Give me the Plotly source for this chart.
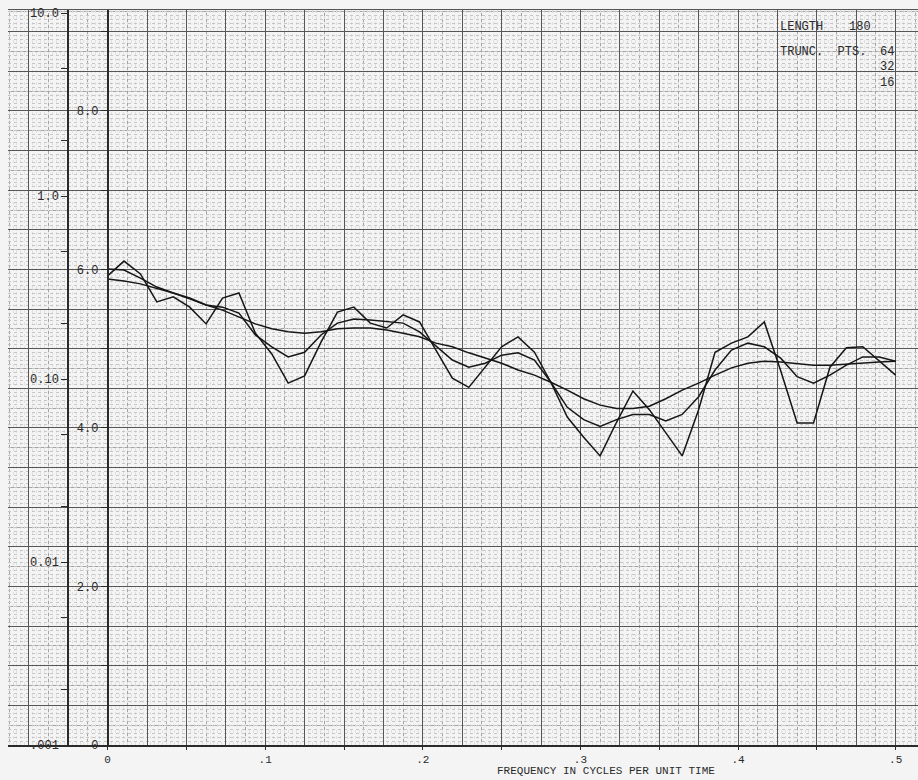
import numpy as np
import plotly.graph_objects as go

# ---- data ----
FREQ = list(np.round(np.linspace(0.0, 0.5, 49), 5))   # frequency grid, cycles per unit time

SPEC_64 = [0.366, 0.441, 0.375, 0.264, 0.281, 0.247, 0.200, 0.277, 0.295, 0.178,
           0.137, 0.095, 0.104, 0.159, 0.232, 0.247, 0.202, 0.190, 0.224, 0.205,
           0.144, 0.101, 0.090, 0.116, 0.150, 0.170, 0.140, 0.096, 0.062, 0.048,
           0.038, 0.058, 0.086, 0.068, 0.051, 0.038, 0.068, 0.140, 0.157, 0.170,
           0.205, 0.111, 0.0575, 0.0575, 0.116, 0.148, 0.150, 0.125, 0.105]

SPEC_32 = [0.399, 0.394, 0.356, 0.318, 0.295, 0.277, 0.254, 0.247, 0.229, 0.174,
           0.150, 0.132, 0.140, 0.174, 0.202, 0.213, 0.210, 0.205, 0.202, 0.181,
           0.152, 0.127, 0.116, 0.122, 0.135, 0.139, 0.127, 0.096, 0.070, 0.060,
           0.055, 0.060, 0.064, 0.064, 0.059, 0.064, 0.080, 0.112, 0.144, 0.157,
           0.150, 0.130, 0.103, 0.095, 0.105, 0.119, 0.132, 0.132, 0.125]

SPEC_16 = [0.352, 0.343, 0.331, 0.314, 0.295, 0.274, 0.254, 0.238, 0.218, 0.200,
           0.188, 0.181, 0.178, 0.181, 0.188, 0.190, 0.190, 0.185, 0.178, 0.170,
           0.157, 0.150, 0.139, 0.130, 0.122, 0.112, 0.105, 0.096, 0.087, 0.078,
           0.072, 0.069, 0.069, 0.071, 0.078, 0.087, 0.095, 0.105, 0.115, 0.122,
           0.125, 0.124, 0.122, 0.119, 0.119, 0.121, 0.122, 0.124, 0.125]

X_TICKS = [0.0, 0.05, 0.1, 0.15, 0.2, 0.25, 0.3, 0.35, 0.4, 0.45, 0.5]
X_TICKTEXT = ["0", "", ".1", "", ".2", "", ".3", "", ".4", "", ".5"]

LOG_TICKS = [0.001, 0.002, 0.005, 0.01, 0.02, 0.05, 0.1, 0.2, 0.5, 1, 2, 5, 10]
LOG_TICKTEXT = [".001", "", "", "0.01", "", "", "0.10", "", "", "1.0", "", "", "10.0"]

LIN_TICKS = [0, 1, 2, 3, 4, 5, 6, 7, 8, 9]
LIN_TICKTEXT = ["0", "", "2.0", "", "4.0", "", "6.0", "", "8.0", ""]

SERIES = [("64", SPEC_64), ("32", SPEC_32), ("16", SPEC_16)]

# ---- layout geometry ----
W, H = 918, 780
ML, MR, MT, MB = 8, 0, 10, 35
PW, PH = W - ML - MR, H - MT - MB
X_RANGE = [-0.0632, 0.5142]
LOG_RANGE = [-3.0, 1.0164]
LIN_RANGE = [0.0, 9.274]

def px_x(px):
    return (px - ML) / PW

def px_y(py):
    return (H - MB - py) / PH

MONO = "Liberation Mono, DejaVu Sans Mono, monospace"
INK = "#2a2a2a"
PAPER = "#f4f4f4"

fig = go.Figure()
# empty traces so that the graph-paper and inner axes are instantiated
for xa, ya in [("x2", "y3"), ("x3", "y4"), ("x", "y2")]:
    fig.add_trace(go.Scatter(x=[], y=[], xaxis=xa, yaxis=ya, mode="lines",
                             showlegend=False, hoverinfo="skip"))
for name, vals in SERIES:
    fig.add_trace(go.Scatter(x=FREQ, y=vals, name=name, mode="lines",
                             line=dict(color="#161616", width=1.5),
                             xaxis="x", yaxis="y", showlegend=False))

grid_axis_common = dict(showticklabels=False, ticks="", zeroline=False, showline=False,
                        fixedrange=True)

fig.update_layout(
    width=W, height=H,
    margin=dict(l=ML, r=MR, t=MT, b=MB, pad=0),
    paper_bgcolor=PAPER, plot_bgcolor=PAPER,
    font=dict(family=MONO, size=11, color=INK),
    xaxis=dict(range=X_RANGE, tickvals=X_TICKS, ticktext=X_TICKTEXT,
               ticks="outside", ticklen=3, tickcolor=INK, tickwidth=1,
               showgrid=False, zeroline=False, showline=True, linecolor=INK,
               linewidth=1.5, tickfont=dict(family=MONO, size=11, color=INK),
               anchor="y", domain=[0, 1]),
    # fine dotted graph-paper texture (drawn first)
    xaxis2=dict(range=X_RANGE, overlaying="x", anchor="y3",
                showgrid=True, dtick=0.0025, tick0=0, gridcolor="#e0e0e0", gridwidth=1,
                griddash="dot", **grid_axis_common),
    # main graph-paper rulings (drawn on top of the texture)
    xaxis3=dict(range=X_RANGE, overlaying="x", anchor="y4", side="top",
                showgrid=True, dtick=0.025, tick0=0, gridcolor="#565656", gridwidth=1,
                minor=dict(dtick=0.0125, tick0=0, showgrid=True, gridcolor="#a4a4a4",
                           gridwidth=1),
                showline=True, linecolor="#555555", linewidth=1,
                showticklabels=False, ticks="", zeroline=False),
    yaxis=dict(type="log", range=LOG_RANGE, anchor="free", position=px_x(68),
               tickvals=LOG_TICKS, ticktext=LOG_TICKTEXT, ticks="outside",
               ticklen=6, tickcolor=INK, tickwidth=1.2, showgrid=False,
               zeroline=False, showline=True, linecolor=INK, linewidth=1.5,
               tickfont=dict(family=MONO, size=12, color=INK), domain=[0, 1]),
    yaxis2=dict(range=LIN_RANGE, overlaying="y", anchor="free", position=px_x(107.6),
                tickvals=LIN_TICKS, ticktext=LIN_TICKTEXT, ticks="outside",
                ticklen=6, tickcolor=INK, tickwidth=1.2, showgrid=False,
                zeroline=False, showline=True, linecolor=INK, linewidth=1.5,
                tickfont=dict(family=MONO, size=12, color=INK), side="left"),
    yaxis3=dict(range=LIN_RANGE, overlaying="y", anchor="x2", side="right",
                showgrid=True, dtick=0.05, tick0=0, gridcolor="#c6c6c6", gridwidth=1,
                griddash="dot", **grid_axis_common),
    yaxis4=dict(range=LIN_RANGE, overlaying="y", anchor="x3", side="right",
                showgrid=True, dtick=0.5, tick0=0, gridcolor="#565656", gridwidth=1,
                minor=dict(dtick=0.25, tick0=0, showgrid=True, gridcolor="#a4a4a4",
                           gridwidth=1),
                **grid_axis_common),
)

ann = [
    dict(text="FREQUENCY IN CYCLES PER UNIT TIME", x=px_x(606), y=px_y(771),
         xanchor="center", yanchor="middle", font=dict(size=11)),
    dict(text="LENGTH", x=px_x(778), y=px_y(27), xanchor="left", yanchor="middle",
         font=dict(size=12)),
    dict(text="180", x=px_x(873), y=px_y(27), xanchor="right", yanchor="middle",
         font=dict(size=12)),
    dict(text="TRUNC.  PTS.", x=px_x(778), y=px_y(52), xanchor="left", yanchor="middle",
         font=dict(size=12)),
    dict(text="64", x=px_x(896), y=px_y(52), xanchor="right", yanchor="middle",
         font=dict(size=12)),
    dict(text="32", x=px_x(896), y=px_y(67), xanchor="right", yanchor="middle",
         font=dict(size=12)),
    dict(text="16", x=px_x(896), y=px_y(83), xanchor="right", yanchor="middle",
         font=dict(size=12)),
]
for a in ann:
    a.update(xref="paper", yref="paper", showarrow=False)
    a["font"] = dict(family=MONO, color=INK, size=a["font"]["size"])
fig.update_layout(annotations=ann)

fig.write_html("out.html")
